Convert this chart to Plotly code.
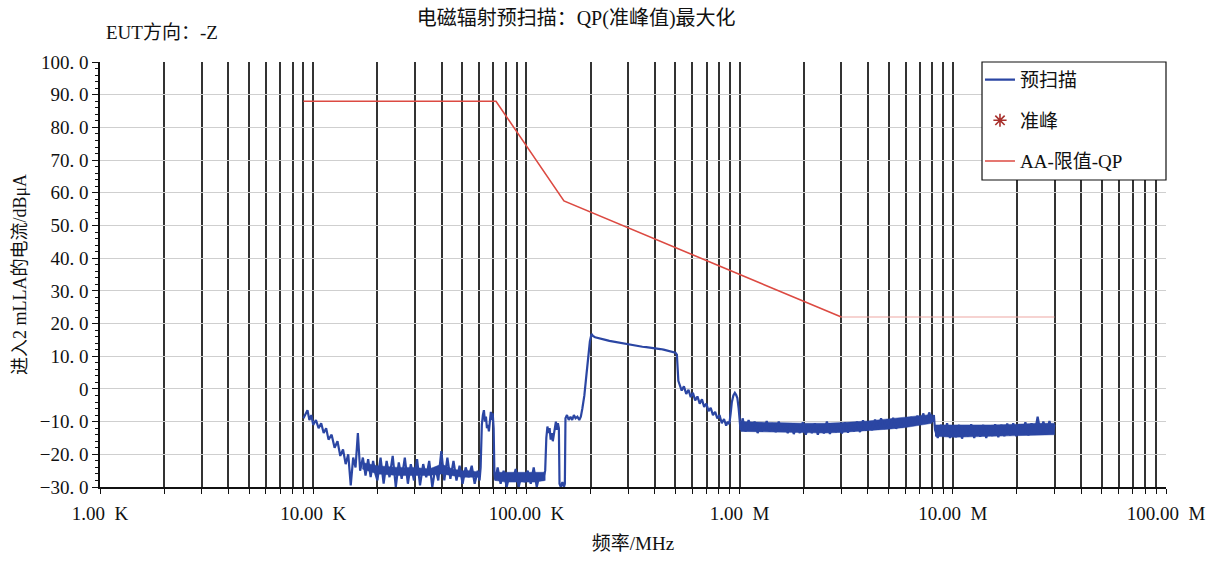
import plotly.graph_objects as go

# ---------------- data ----------------
# pre-scan trace, frequency in kHz, level in dBuA
scan_freq_khz = [
    9.0, 9.2, 9.4, 9.6, 9.8, 10.0, 10.3, 10.6, 10.9, 11.2, 11.5, 11.8, 12.2, 12.6, 13.0, 13.4, 13.8, 14.2,
    14.6, 15.0, 15.4, 15.8, 16.2, 16.6, 17.1, 17.6, 18.1, 18.6, 19.1, 19.6,
    20.0, 20.7, 21.4, 22.1, 22.8, 23.6, 24.4, 25.2, 26.0, 26.9, 27.8, 28.7, 29.7, 30.7, 31.7, 32.8, 33.9,
    35.0, 36.2, 37.4, 38.6, 39.9, 41.2, 42.6, 44.0, 45.5, 47.0, 48.6, 50.2, 51.9, 53.6, 55.4, 57.2, 59.1, 60.3,
    61.0, 61.8, 62.5, 63.2, 63.9, 64.6, 65.3, 66.0, 66.7, 67.4, 68.1, 68.8, 69.5, 70.2, 70.8,
    71.5, 73.3, 75.7, 78.2, 80.8, 83.5, 86.2, 89.1, 92.0, 95.0, 98.2, 101.4, 104.8, 108.2, 111.8, 115.5, 119.3, 122.5,
    124, 125.5, 127, 128.5, 130, 131.5, 133, 134.5, 136, 137.5, 139, 140.5, 142, 143, 145, 147.5, 150, 151.5,
    152.5, 155, 158, 161, 164, 167, 170, 173.5, 177, 180, 183, 187, 191, 195, 198.5, 202, 205,
    210, 218, 226, 235, 245, 255, 265, 278, 290, 305, 320, 335, 350, 365, 380, 395, 410, 425, 440, 455, 470,
    485, 500, 508, 512, 516,
    522, 535, 548, 562, 576, 590, 604, 619, 634, 650, 666, 682, 698, 715, 732, 750, 768, 786, 805, 825, 845,
    865, 880, 895, 908, 920, 935, 950, 963, 976, 990, 1000,
    1010, 1033, 1067, 1102, 1139, 1176, 1215, 1255, 1297, 1340, 1384, 1430, 1477, 1526, 1576, 1628, 1682,
    1738, 1795, 1854, 1916, 1979, 2044, 2112, 2182, 2254, 2328, 2405, 2485, 2567, 2652, 2739, 2830, 2923,
    3020, 3120, 3223, 3329, 3439, 3553, 3670, 3792, 3917, 4046, 4180, 4318, 4461, 4608, 4760, 4918, 5080,
    5248, 5421, 5600, 5785, 5977, 6174, 6378, 6589, 6806, 7031, 7264, 7504, 7751, 8007, 8150,
    8250, 8500, 8800, 9100, 9400, 9700, 10000, 10350, 10700, 11050, 11400, 11800, 12200, 12600, 13000,
    13450, 13900, 14350, 14800, 15300, 15800, 16350, 16900, 17450, 18000, 18600, 19200, 19850, 20500,
    21200, 21900, 22600, 23400, 24200, 25000, 25800, 26600, 27500, 28400, 29300, 30000,
]
scan_level = [
    -9, -7.5, -6.5, -9.5, -8, -11, -9.5, -12, -10.5, -13.5, -12, -15.5, -14, -18, -16, -20.5, -18.5, -23,
    -20, -29.5, -21, -24, -13.5, -25, -21, -26.5, -21.5, -27, -22, -26,
    -28, -21, -29, -22, -27, -20.5, -30, -22.5, -27.5, -21, -29, -23, -28, -21.5, -29.5, -23, -27,
    -22, -30, -24, -28, -19, -28, -21, -27.5, -22, -28, -23.5, -29, -24, -27, -23.5, -29, -25, -28,
    -24, -11, -8, -6.5, -10, -8.5, -12, -11, -13, -9, -7, -9.5, -7.5, -12, -26,
    -28, -24, -29, -25, -30, -26, -28, -24.5, -30, -26, -28.5, -25, -29, -24, -30, -26, -28, -25,
    -15, -11.5, -13.5, -12, -15.5, -13.5, -16, -14, -12, -10, -12.5, -10.5, -12, -29, -30, -28.5, -30, -29,
    -9, -8, -9.5, -8.5, -9.5, -8, -9, -8.5, -9.5, -8.5, -6, -2, 4, 10, 14.5, 16.8, 16.2,
    15.8, 15.6, 15.2, 15.0, 14.7, 14.5, 14.2, 14.0, 13.7, 13.6, 13.4, 13.1, 12.9, 12.8, 12.7, 12.5, 12.4,
    12.2, 12.0, 11.8, 11.6, 11.4, 11.1, 10.5, 6, 2.5,
    1.5, -0.5, 0.8, -1.5, -0.3, -2.5, -1.2, -3.5, -2.3, -4.5, -3.2, -5.5, -4.5, -6.8, -5.8, -8, -7, -9, -8,
    -10.5, -9.2, -11.2, -10, -10.8, -7.5, -4, -2, -1.2, -1.8, -2.8, -6, -10,
    -12.5, -9, -13, -9.5, -12.5, -10, -13.5, -10.5, -12.8, -9.8, -13, -10.5, -13.2, -10, -12.8, -10.8, -13.5,
    -10.5, -13.8, -11, -13.5, -10.2, -14, -11, -13.5, -10.5, -14, -10.8, -13.6, -10, -13.8, -10.5, -13.2,
    -10.8, -13.6, -10.2, -13.4, -10.5, -13, -10, -13.2, -9.6, -12.8, -10, -12.6, -9.4, -12.5, -9, -12.2,
    -9.5, -12, -8.8, -12.2, -9.2, -11.8, -9, -11.5, -8.6, -11.2, -8.2, -10.8, -7.5, -10.5, -7.2, -10, -8,
    -12.5, -15, -11, -14.5, -10.5, -15, -11.5, -14.8, -11, -15.2, -11.5, -14.5, -10.8, -15, -11.2,
    -14.6, -11, -15, -11.5, -14.4, -10.8, -14.8, -11, -14.5, -10.6, -14.2, -10.5, -14.5, -10.8,
    -14, -10.2, -14.2, -10.5, -13.8, -8.5, -13.5, -10, -13.8, -9.8, -13.5, -11,
]

# dense-noise core of the pre-scan (read as lower / upper edge of the solid band)
band1_freq_khz = [17, 20, 25, 30, 35, 40, 45, 50, 55, 60]
band1_low = [-24.5, -26, -26.5, -26.5, -26.5, -26, -26.5, -27, -27, -27]
band1_high = [-22.5, -23.5, -24, -24, -24.5, -23, -24.5, -25, -25, -25.5]
band2_freq_khz = [71.5, 80, 90, 100, 110, 122.5]
band2_low = [-28, -28.5, -28.5, -28.5, -28.5, -28]
band2_high = [-25.5, -25.5, -25.5, -25.5, -25.5, -25.5]
band3_freq_khz = [1010, 1500, 2000, 2500, 3000, 4000, 5000, 6000, 7000, 8000]
band3_low = [-13, -13.2, -13.5, -13.5, -13.3, -12.8, -12.3, -11.8, -11, -10.5]
band3_high = [-10, -10.2, -10.5, -10.5, -10.3, -9.8, -9.3, -8.8, -8.2, -7.8]
band4_freq_khz = [8250, 10000, 15000, 20000, 25000, 30000]
band4_low = [-14.5, -14.8, -14.5, -14.3, -14, -14]
band4_high = [-11, -11, -11, -10.8, -10.5, -10.5]

# limit line AA-QP
limit_freq_khz = [9, 72, 150, 3000, 30000]
limit_level = [88, 88, 57.5, 22, 22]

# axes
decade_labels = ["1.00  K", "10.00  K", "100.00  K", "1.00  M", "10.00  M", "100.00  M"]
y_vals = [-30, -20, -10, 0, 10, 20, 30, 40, 50, 60, 70, 80, 90, 100]
y_labels = ["−30. 0", "−20. 0", "−10. 0", "0", "10. 0", "20. 0", "30. 0", "40. 0", "50. 0",
            "60. 0", "70. 0", "80. 0", "90. 0", "100. 0"]

# ---------------- figure ----------------
FONT = "Liberation Serif, Noto Sans CJK SC, serif"
BLUE = "#2b46a3"

scan_x = [f * 1e3 for f in scan_freq_khz]
lim_x = [f * 1e3 for f in limit_freq_khz]

grid_vals = []
grid_text = []
for k in range(3, 8):
    for m in range(1, 10):
        grid_vals.append(m * 10 ** k)
        grid_text.append(decade_labels[k - 3] if m == 1 else "")
grid_vals.append(1e8)
grid_text.append(decade_labels[-1])

fig = go.Figure()

for bf, bl, bh in [(band1_freq_khz, band1_low, band1_high), (band2_freq_khz, band2_low, band2_high),
                   (band3_freq_khz, band3_low, band3_high), (band4_freq_khz, band4_low, band4_high)]:
    px = [f * 1e3 for f in bf] + [f * 1e3 for f in bf[::-1]]
    py = list(bl) + list(bh[::-1])
    fig.add_trace(go.Scatter(x=px, y=py, mode="lines", fill="toself", fillcolor=BLUE,
                             line=dict(color=BLUE, width=0.5), showlegend=False, hoverinfo="skip"))

fig.add_trace(go.Scatter(
    x=scan_x, y=scan_level, mode="lines", name="预扫描",
    line=dict(color=BLUE, width=2.2), legendgroup="a",
))
fig.add_trace(go.Scatter(
    x=[None], y=[None], mode="markers", name="准峰",
    marker=dict(symbol="asterisk-open", size=11, color="#a8302c", line=dict(color="#a8302c", width=1.6)),
    legendgroup="b",
))
fig.add_trace(go.Scatter(
    x=lim_x[:4], y=limit_level[:4], mode="lines", name="AA-限值-QP",
    line=dict(color="#dc4a42", width=1.6), legendgroup="c",
))
fig.add_trace(go.Scatter(
    x=lim_x[3:], y=limit_level[3:], mode="lines", showlegend=False,
    line=dict(color="#eea8a4", width=1.2), legendgroup="c",
))

fig.update_layout(
    width=1218, height=563,
    margin=dict(l=100, r=52, t=62, b=76),
    paper_bgcolor="white", plot_bgcolor="white",
    font=dict(family=FONT, size=19, color="#111"),
    title=dict(text="电磁辐射预扫描：QP(准峰值)最大化", x=0.473, xanchor="center",
               y=1 - 18 / 563, yanchor="middle", font=dict(size=20, family=FONT, color="#111")),
    showlegend=True,
    legend=dict(x=0.8255, y=1.003, xanchor="left", yanchor="top", bgcolor="rgba(0,0,0,0)",
                borderwidth=0, font=dict(size=19, family=FONT), traceorder="grouped",
                tracegroupgap=13),
    shapes=[dict(type="rect", xref="paper", yref="paper", x0=0.8274, x1=1.0, y0=1 - 118 / 425, y1=1.0,
                 line=dict(color="#111", width=1.2), fillcolor="white", layer="above")],
    annotations=[dict(text="EUT方向：-Z", xref="paper", yref="paper", x=0.004, y=1 + 29 / 425,
                      xanchor="left", yanchor="middle", showarrow=False,
                      font=dict(size=19, family=FONT, color="#111"))],
)

fig.update_xaxes(
    type="log", range=[3, 8],
    tickvals=grid_vals, ticktext=grid_text,
    showgrid=True, gridcolor="#333333", gridwidth=1.5,
    ticks="outside", ticklen=5, tickcolor="#111", tickwidth=1,
    showline=True, linecolor="#111", linewidth=1.5,
    tickfont=dict(size=19, family=FONT), ticklabelstandoff=3,
    title=dict(text="频率/MHz", font=dict(size=19, family=FONT), standoff=14),
    zeroline=False,
)
fig.update_yaxes(
    range=[-30, 100], tickvals=y_vals, ticktext=y_labels,
    showgrid=True, gridcolor="#cfcfcf", gridwidth=1,
    ticks="outside", ticklen=6, tickcolor="#111",
    minor=dict(dtick=2, ticks="outside", ticklen=3, tickcolor="#111", showgrid=False),
    showline=True, linecolor="#111", linewidth=1.5,
    tickfont=dict(size=19, family=FONT),
    title=dict(text="进入2 mLLA的电流/dBμA", font=dict(size=18, family=FONT), standoff=8),
    zeroline=False,
)

fig.write_html("out.html")
